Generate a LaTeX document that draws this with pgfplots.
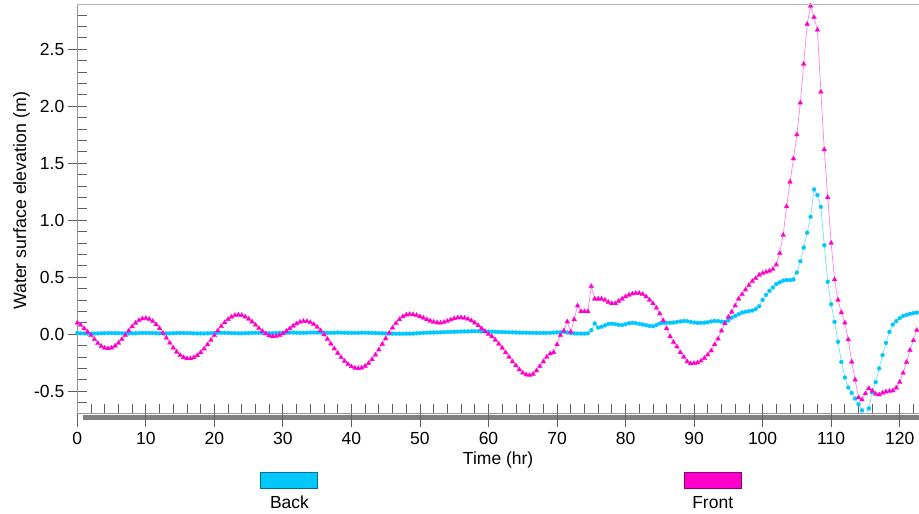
\documentclass[border=0pt]{standalone}
\usepackage{pgfplots}
\pgfplotsset{compat=1.18}
\usepackage{pgfplotstable}
\usepackage{fontspec}
\setmainfont{Liberation Sans}

\definecolor{backc}{RGB}{0,200,255}
\definecolor{frontc}{RGB}{255,0,204}
\definecolor{axgray}{RGB}{150,150,150}
\definecolor{tickgray}{RGB}{95,95,95}
\definecolor{bargray}{RGB}{128,128,128}

% Water surface elevation (m) at the back and front gauges, every 0.5 hr
\pgfplotstableread{
t back front
0 0.010 0.100
0.5 0.008 0.080
1 0.007 0.050
1.5 0.006 0.020
2 0.006 -0.010
2.5 0.006 -0.045
3 0.007 -0.080
3.5 0.008 -0.105
4 0.009 -0.120
4.5 0.010 -0.125
5 0.010 -0.119
5.5 0.010 -0.103
6 0.009 -0.078
6.5 0.008 -0.045
7 0.007 -0.008
7.5 0.007 0.031
8 0.008 0.067
8.5 0.009 0.098
9 0.010 0.122
9.5 0.011 0.136
10 0.011 0.140
10.5 0.011 0.132
11 0.010 0.114
11.5 0.009 0.086
12 0.008 0.051
12.5 0.007 0.010
13 0.007 -0.033
13.5 0.008 -0.077
14 0.009 -0.119
14.5 0.010 -0.155
15 0.011 -0.184
15.5 0.011 -0.204
16 0.010 -0.214
16.5 0.009 -0.213
17 0.008 -0.204
17.5 0.007 -0.186
18 0.007 -0.160
18.5 0.007 -0.128
19 0.008 -0.091
19.5 0.009 -0.051
20 0.010 -0.010
20.5 0.011 0.031
21 0.012 0.069
21.5 0.012 0.103
22 0.011 0.131
22.5 0.010 0.152
23 0.009 0.166
23.5 0.008 0.170
24 0.008 0.166
24.5 0.009 0.153
25 0.010 0.134
25.5 0.011 0.109
26 0.012 0.081
26.5 0.012 0.052
27 0.011 0.026
27.5 0.010 0.004
28 0.009 -0.012
28.5 0.009 -0.019
29 0.010 -0.018
29.5 0.011 -0.010
30 0.012 0.006
30.5 0.013 0.027
31 0.014 0.050
31.5 0.014 0.073
32 0.013 0.093
32.5 0.012 0.107
33 0.012 0.114
33.5 0.013 0.113
34 0.014 0.104
34.5 0.015 0.087
35 0.015 0.063
35.5 0.014 0.032
36 0.013 -0.003
36.5 0.012 -0.043
37 0.012 -0.084
37.5 0.013 -0.126
38 0.014 -0.166
38.5 0.014 -0.203
39 0.013 -0.236
39.5 0.012 -0.263
40 0.011 -0.283
40.5 0.011 -0.296
41 0.012 -0.300
41.5 0.013 -0.295
42 0.013 -0.280
42.5 0.012 -0.255
43 0.011 -0.221
43.5 0.010 -0.181
44 0.009 -0.136
44.5 0.008 -0.087
45 0.007 -0.038
45.5 0.006 0.011
46 0.005 0.056
46.5 0.004 0.096
47 0.004 0.130
47.5 0.004 0.155
48 0.005 0.170
48.5 0.005 0.175
49 0.006 0.173
49.5 0.008 0.166
50 0.010 0.155
50.5 0.012 0.143
51 0.013 0.129
51.5 0.014 0.117
52 0.015 0.107
52.5 0.016 0.101
53 0.017 0.100
53.5 0.018 0.105
54 0.019 0.115
54.5 0.020 0.127
55 0.021 0.138
55.5 0.022 0.145
56 0.023 0.146
56.5 0.024 0.142
57 0.025 0.133
57.5 0.026 0.120
58 0.026 0.100
58.5 0.026 0.077
59 0.025 0.050
59.5 0.024 0.025
60 0.023 0.000
60.5 0.022 -0.020
61 0.021 -0.050
61.5 0.020 -0.085
62 0.019 -0.120
62.5 0.018 -0.160
63 0.017 -0.200
63.5 0.016 -0.240
64 0.015 -0.275
64.5 0.014 -0.310
65 0.013 -0.340
65.5 0.013 -0.355
66 0.012 -0.360
66.5 0.012 -0.350
67 0.011 -0.320
67.5 0.011 -0.280
68 0.011 -0.240
68.5 0.011 -0.200
69 0.012 -0.170
69.5 0.014 -0.160
70 0.016 -0.090
70.5 0.018 -0.010
71 0.020 0.030
71.5 0.015 0.110
72 0.010 0.020
72.5 0.007 0.130
73 0.006 0.250
73.5 0.005 0.200
74 0.005 0.200
74.5 0.008 0.200
75 0.035 0.420
75.5 0.094 0.310
76 0.058 0.310
76.5 0.065 0.310
77 0.078 0.300
77.5 0.090 0.280
78 0.092 0.270
78.5 0.088 0.270
79 0.082 0.290
79.5 0.080 0.310
80 0.088 0.330
80.5 0.096 0.345
81 0.100 0.355
81.5 0.097 0.360
82 0.091 0.360
82.5 0.085 0.350
83 0.079 0.330
83.5 0.073 0.300
84 0.070 0.270
84.5 0.080 0.230
85 0.094 0.180
85.5 0.100 0.120
86 0.100 0.050
86.5 0.100 -0.020
87 0.102 -0.070
87.5 0.107 -0.110
88 0.112 -0.160
88.5 0.116 -0.200
89 0.114 -0.240
89.5 0.108 -0.257
90 0.102 -0.255
90.5 0.099 -0.250
91 0.100 -0.235
91.5 0.101 -0.210
92 0.105 -0.180
92.5 0.112 -0.145
93 0.117 -0.090
93.5 0.115 -0.040
94 0.110 0.030
94.5 0.108 0.094
95 0.120 0.150
95.5 0.145 0.196
96 0.160 0.250
96.5 0.175 0.310
97 0.190 0.350
97.5 0.197 0.390
98 0.202 0.430
98.5 0.208 0.465
99 0.220 0.490
99.5 0.245 0.520
100 0.300 0.535
100.5 0.345 0.545
101 0.380 0.555
101.5 0.410 0.570
102 0.440 0.610
102.5 0.455 0.710
103 0.470 0.870
103.5 0.475 1.120
104 0.475 1.336
104.5 0.480 1.540
105 0.540 1.750
105.5 0.640 2.030
106 0.760 2.370
106.5 0.890 2.720
107 1.030 2.880
107.5 1.270 2.780
108 1.220 2.670
108.5 1.117 2.125
109 0.780 1.620
109.5 0.460 1.200
110 0.263 0.800
110.5 0.108 0.480
111 -0.067 0.300
111.5 -0.243 0.190
112 -0.380 0.100
112.5 -0.468 -0.047
113 -0.515 -0.243
113.5 -0.564 -0.400
114 -0.614 -0.556
114.5 -0.667 -0.575
115 -0.720 -0.520
115.5 -0.652 -0.475
116 -0.510 -0.497
116.5 -0.420 -0.525
117 -0.300 -0.530
117.5 -0.184 -0.515
118 -0.076 -0.505
118.5 0.020 -0.500
119 0.085 -0.495
119.5 0.115 -0.470
120 0.140 -0.420
120.5 0.160 -0.340
121 0.170 -0.245
121.5 0.178 -0.140
122 0.185 -0.055
122.5 0.190 0.035
}\wsedata

\newcommand{\chartfont}{\fontsize{17.5}{20}\selectfont}

\begin{document}
\begin{tikzpicture}[x=1pt,y=1pt]
% shaded strip under the time axis
\fill[bargray] (82.7,94) rectangle (919,99);
\begin{axis}[
  at={(77.3pt,100pt)}, anchor=south west,
  scale only axis, width=841.7pt, height=409pt,
  xmin=0, xmax=122.82, ymin=-0.7, ymax=2.888,
  axis lines=left,
  axis line style={-, draw=axgray, line width=1pt},
  xtick={0,10,...,120},
  minor xtick={2,4,...,122},
  ytick={-0.5,0,0.5,1,1.5,2,2.5},
  minor ytick={-0.6,-0.4,-0.3,-0.2,-0.1,0.1,0.2,0.3,0.4,0.6,0.7,0.8,0.9,1.1,1.2,1.3,1.4,1.6,1.7,1.8,1.9,2.1,2.2,2.3,2.4,2.6,2.7,2.8},
  tick align=inside,
  major tick length=9.5pt, minor tick length=9.5pt,
  tick style={draw=tickgray, line width=0.8pt},
  extra x ticks={0,10,...,120},
  extra x tick labels={},
  extra x tick style={tick align=outside, major tick length=13pt},
  extra y ticks={-0.5,0,0.5,1,1.5,2,2.5},
  extra y tick labels={},
  extra y tick style={tick align=outside, major tick length=9pt},
  /pgf/number format/assume math mode=true,
  xticklabel style={font=\chartfont, yshift=-14.5pt},
  yticklabel style={font=\chartfont, xshift=-9.5pt,
    /pgf/number format/.cd, fixed, fixed zerofill, precision=1},
  xlabel={Time (hr)},
  ylabel={Water surface elevation (m)},
  every axis x label/.style={at={([yshift=-51pt]axis description cs:0.5,0)}, anchor=base, font=\chartfont},
  every axis y label/.style={at={([xshift=-51.3pt,yshift=8.5pt]axis description cs:0,0.5)}, rotate=90, anchor=base, font=\fontsize{17.8}{20}\selectfont},
]
\addplot[color=backc!55!white, line width=0.7pt,
  mark=*, mark size=2pt, mark options={fill=backc, draw=backc, line width=0.2pt}]
  table[x=t, y=back] {\wsedata};
\addplot[color=frontc!50!white, line width=0.7pt,
  mark=triangle*, mark size=2.8pt, mark options={fill=frontc, draw=frontc, line width=0.2pt}]
  table[x=t, y=front] {\wsedata};
\end{axis}
% top frame line
\draw[axgray!70, line width=1pt] (77.3,509) -- (919,509);
% legend
\draw[fill=backc, draw=black!45!backc, line width=0.7pt] (260.7,25.7) rectangle (317.7,41.3);
\node[font=\chartfont, anchor=base, inner sep=0pt] at (289.5,5.2) {Back};
\draw[fill=frontc, draw=black!45!frontc, line width=0.7pt] (684,25.7) rectangle (741.3,41.3);
\node[font=\chartfont, anchor=base, inner sep=0pt] at (712.7,5.2) {Front};
\pgfresetboundingbox
\useasboundingbox (0,0) rectangle (919,514);
\end{tikzpicture}
\end{document}
